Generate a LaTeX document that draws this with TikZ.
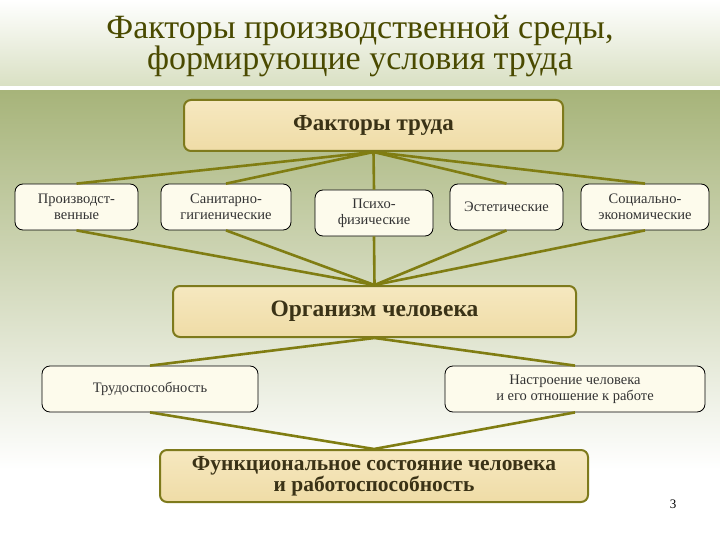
\documentclass[tikz,border=0pt]{standalone}
\usepackage{fontspec}
\setmainfont{Liberation Serif}
\definecolor{olivedk}{HTML}{7E7A1C}
\definecolor{olivel}{HTML}{807D12}
\definecolor{tanA}{HTML}{F6E8C0}
\definecolor{tanB}{HTML}{EFDCA6}
\definecolor{cream}{HTML}{FDFBEC}
\definecolor{txt}{HTML}{333333}
\definecolor{bigtxt}{HTML}{3A3216}
\definecolor{titlec}{HTML}{4A4A00}
\definecolor{headB}{HTML}{D9E0C3}
\definecolor{bodyA}{HTML}{A7B47A}
\begin{document}
\begin{tikzpicture}[x=1pt,y=-1pt,
  bigbox/.style={draw=olivedk, line width=2pt, rounded corners=7pt, top color=tanA, bottom color=tanB, inner sep=0pt, text=bigtxt},
  smallbox/.style={draw=black, line width=0.8pt, rounded corners=8pt, fill=cream, inner sep=0pt, text=txt, font=\fontsize{14.5}{16}\selectfont, align=center},
  link/.style={draw=olivel, line width=2.6pt}]
\useasboundingbox (0,0) rectangle (720,540);
% background
\fill[white] (0,0) rectangle (720,540);
\shade[top color=white, bottom color=headB] (0,0) rectangle (720,86);
\shade[top color=bodyA, bottom color=white] (0,91) rectangle (720,470);
% title
\node[text=titlec, font=\fontsize{34}{29}\selectfont, align=center] (title) at (360,46) {Факторы производственной среды,\\формирующие условия труда};
% nodes
\node[bigbox, minimum width=379pt, minimum height=51pt, font=\bfseries\fontsize{23}{24}\selectfont] (ft) at (373.5,125.5) {Факторы труда};
\node[smallbox, minimum width=123pt, minimum height=46pt] (p1) at (76.5,207) {Производст-\\венные};
\node[smallbox, minimum width=130pt, minimum height=46pt] (p2) at (226,207) {Санитарно-\\гигиенические};
\node[smallbox, minimum width=118pt, minimum height=46pt] (p3) at (374,213) {Психо-\\физические};
\node[smallbox, minimum width=113pt, minimum height=46pt] (p4) at (506.5,207) {Эстетические};
\node[smallbox, minimum width=128pt, minimum height=46pt] (p5) at (645,207) {Социально-\\экономические};
\node[bigbox, minimum width=403pt, minimum height=51pt, font=\bfseries\fontsize{23.5}{24}\selectfont] (org) at (374.5,311.5) {Организм человека};
\node[smallbox, minimum width=216pt, minimum height=46pt] (tr) at (150,389) {Трудоспособность};
\node[smallbox, minimum width=260pt, minimum height=46pt] (ns) at (575,389) {Настроение человека\\и его отношение к работе};
\node[bigbox, minimum width=428pt, minimum height=52pt, font=\bfseries\fontsize{21.5}{19}\selectfont, align=center] (fs) at (374,476) {Функциональное состояние человека\\и работоспособность};
\node[font=\fontsize{13}{14}\selectfont] (num) at (673,504) {3};
% connectors
\foreach \n in {p1,p2,p3,p4,p5} {
  \path[link] (ft.south) -- (\n.north);
  \path[link] (\n.south) -- (org.north);
}
\path[link] (org.south) -- (tr.north);
\path[link] (org.south) -- (ns.north);
\path[link] (tr.south) -- (fs.north);
\path[link] (ns.south) -- (fs.north);
\end{tikzpicture}
\end{document}
